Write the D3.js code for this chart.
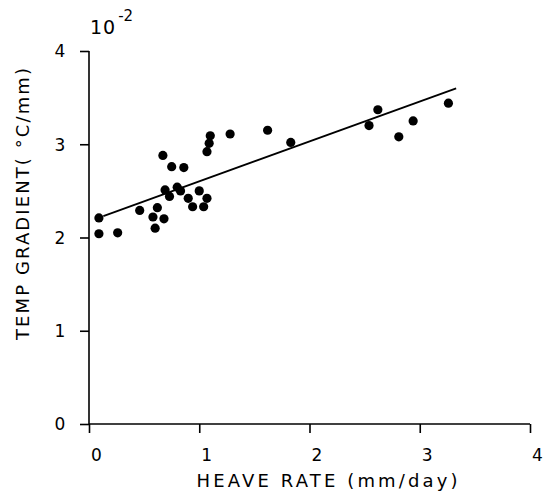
<!DOCTYPE html>
<html>
<head>
<meta charset="utf-8">
<script src="https://cdn.jsdelivr.net/npm/d3@7"></script>
<style>
  html, body { margin: 0; padding: 0; background: #fff; }
  svg text { font-family: "DejaVu Sans", sans-serif; fill: #000; }
</style>
</head>
<body>
<svg id="chart" width="549" height="495"></svg>
<script>
// Data
const heaveRate = [0.09, 0.09, 0.26, 0.46, 0.62, 0.58, 0.68, 0.60, 0.67, 0.75, 0.86, 0.69, 0.73, 0.80, 0.83, 0.90, 0.94, 1.00, 1.04, 1.07, 1.07, 1.09, 1.10, 1.28, 1.62, 1.83, 2.54, 2.62, 2.81, 2.94, 3.26];
const tempGradient = [2.21, 2.04, 2.05, 2.29, 2.32, 2.22, 2.20, 2.10, 2.88, 2.76, 2.75, 2.51, 2.44, 2.54, 2.50, 2.42, 2.33, 2.50, 2.33, 2.42, 2.92, 3.01, 3.09, 3.11, 3.15, 3.02, 3.20, 3.37, 3.08, 3.25, 3.44];
const fitX = [0.13, 3.33];
const fitY = [2.23, 3.60];
const xTicks = [0, 1, 2, 3, 4];
const yTicks = [0, 1, 2, 3, 4];
const xLabel = "HEAVE RATE (mm/day)";
const yLabel = "TEMP GRADIENT( °C/mm)";
const multiplierBase = "10";
const multiplierExp = "-2";

const svg = d3.select("#chart");
const x = d3.scaleLinear().domain([0, 4]).range([89, 530]);
const y = d3.scaleLinear().domain([0, 4]).range([424, 51]);

// axes
const xAxis = d3.axisBottom(x).tickValues(xTicks).tickSize(9).tickPadding(16).tickFormat(d3.format("d"));
const yAxis = d3.axisLeft(y).tickValues(yTicks).tickSize(9).tickPadding(25).tickFormat(d3.format("d"));

const gx = svg.append("g").attr("transform", `translate(0,${y(0)})`).call(xAxis);
const gy = svg.append("g").attr("transform", `translate(${x(0)},0)`).call(yAxis);

[gx, gy].forEach(g => {
  g.select(".domain").attr("stroke", "#000").attr("stroke-width", 1.6);
  g.selectAll(".tick line").attr("stroke", "#000").attr("stroke-width", 1.6);
  g.selectAll(".tick text").attr("font-size", 17).attr("font-family", "DejaVu Sans");
});
gx.selectAll(".tick text").attr("dx", 7);
gy.selectAll(".tick text").attr("text-anchor", "middle").attr("dx", 5).attr("dy", "0.35em");
gx.select(".domain").attr("d", `M${x(0)},0H${x(4)}`);
gy.select(".domain").attr("d", `M0,${y(0)}V${y(4)}`);

// regression line
svg.append("line")
  .attr("x1", x(fitX[0])).attr("y1", y(fitY[0]))
  .attr("x2", x(fitX[1])).attr("y2", y(fitY[1]))
  .attr("stroke", "#000").attr("stroke-width", 1.8);

// points
svg.append("g").selectAll("circle")
  .data(heaveRate.map((h, i) => [h, tempGradient[i]]))
  .join("circle")
  .attr("cx", d => x(d[0])).attr("cy", d => y(d[1]))
  .attr("r", 4.6).attr("fill", "#000");

// axis labels
svg.append("text")
  .attr("x", 327).attr("y", 487)
  .attr("text-anchor", "middle").attr("font-size", 18)
  .attr("textLength", 261).attr("lengthAdjust", "spacing")
  .text(xLabel);

svg.append("text")
  .attr("transform", "translate(29,204) rotate(-90)")
  .attr("text-anchor", "middle").attr("font-size", 18)
  .attr("textLength", 272).attr("lengthAdjust", "spacing")
  .text(yLabel);

// multiplier
const m = svg.append("text").attr("x", 90).attr("y", 34).attr("font-size", 19);
m.append("tspan").text(multiplierBase).attr("letter-spacing", 1);
m.append("tspan").attr("dy", -13).attr("dx", 2).attr("font-size", 15).text(multiplierExp);
</script>
</body>
</html>
